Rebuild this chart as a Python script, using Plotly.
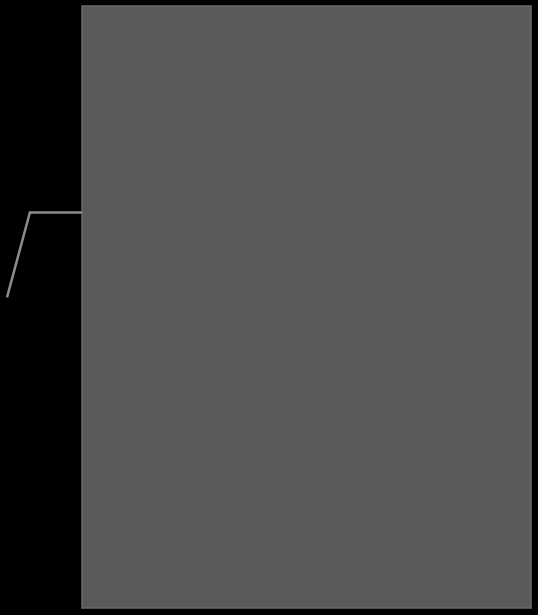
import plotly.graph_objects as go

# single block and its leader line
block_x = [0.5]
block_value = [100]
leader_x = [-0.167, -0.116, 0.0]
leader_y = [51.6, 65.7, 65.7]

fig = go.Figure()
fig.add_trace(go.Bar(x=block_x, y=block_value, width=1,
                     marker=dict(color="#595959", line=dict(color="#6b6b6b", width=1.5)),
                     hoverinfo="skip"))
fig.add_trace(go.Scatter(x=leader_x, y=leader_y, mode="lines",
                         line=dict(color="#8c8c8c", width=2.5), hoverinfo="skip"))

fig.update_layout(width=538, height=615, margin=dict(l=0, r=0, t=0, b=0),
                  paper_bgcolor="black", plot_bgcolor="black", showlegend=False)
fig.update_xaxes(range=[-0.1826, 1.0156], visible=False)
fig.update_yaxes(range=[-1.16, 101.0], visible=False)
# page has a default body margin, drop it so the figure fills the window
fig.write_html("out.html", config={"displayModeBar": False},
               post_script="document.body.style.margin='0';")
